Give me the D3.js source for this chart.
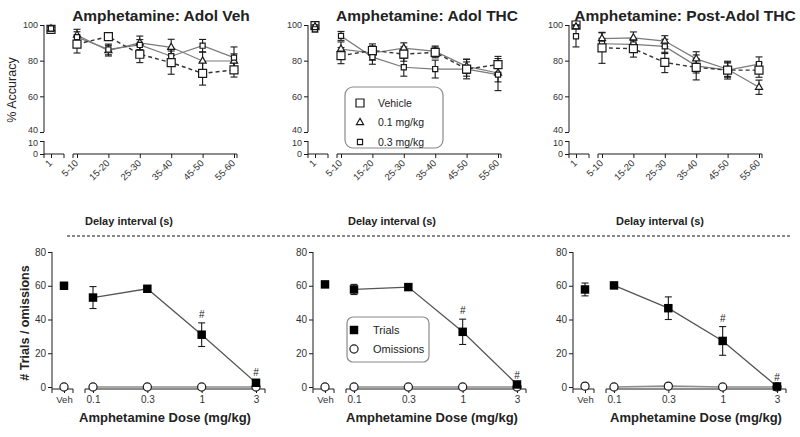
<!DOCTYPE html>
<html><head><meta charset="utf-8">
<script src="https://cdn.jsdelivr.net/npm/d3@7"></script>
<style>body{margin:0;background:#fff}svg{display:block;font-family:Arial,"Liberation Sans",sans-serif}</style>
</head><body><svg id="c" width="800" height="437"></svg>
<script>
// ---------------- DATA ----------------
const delayCats = ["5-10","15-20","25-30","35-40","45-50","55-60"];
const firstDelay = ["1"];
const doseCats = ["0.1","0.3","1","3"];
const vehCat = ["Veh"];
const topTitles = ["Amphetamine: Adol Veh","Amphetamine: Adol THC","Amphetamine: Post-Adol THC"];
const groupNames = ["Vehicle","0.1 mg/kg","0.3 mg/kg"];
const yTicksUpper = [40,60,80,100];
const yTicksLower = [0,10];
const yTicksTrials = [0,20,40,60,80];

// % accuracy at 1-s delay: [vehicle, 0.1, 0.3] per panel
const acc1Mean = [[97.6,97.8,98.0],[99.6,99.0,97.6],[100,99.0,93.7]];
const acc1Err  = [[1.0,1.0,1.0],[0.8,1.0,1.5],[0.5,1.0,6.0]];

// Adol Veh
const adolVehVehicle = [89.3,93.5,83.6,78.9,72.9,74.8];
const adolVehVehicleErr = [5.0,2.0,4.7,6.5,6.6,4.0];
const adolVehD01 = [94.4,85.6,90.0,87.5,79.8,79.8];
const adolVehD01Err = [3.2,3.0,3.8,4.5,5.0,4.0];
const adolVehD03 = [93.2,86.3,88.8,82.5,88.4,81.7];
const adolVehD03Err = [3.0,3.0,3.0,4.0,3.5,6.0];
// Adol THC
const adolThcVehicle = [82.8,85.7,83.7,84.6,75.3,77.8];
const adolThcVehicleErr = [4.5,3.7,4.0,3.0,5.5,4.6];
const adolThcD01 = [86.5,84.3,87.0,85.2,76.8,73.1];
const adolThcD01Err = [4.0,4.0,3.0,3.0,4.0,5.0];
const adolThcD03 = [93.9,82.0,76.3,75.3,75.3,72.2];
const adolThcD03Err = [2.5,4.0,5.0,5.0,4.0,9.0];
// Post-Adol THC
const postThcVehicle = [87.2,86.7,79.0,76.2,74.7,74.7];
const postThcVehicleErr = [8.7,4.7,5.7,7.0,5.0,4.0];
const postThcD01 = [92.4,92.8,91.0,81.0,75.2,65.1];
const postThcD01Err = [3.2,3.3,3.0,4.0,4.0,4.0];
const postThcD03 = [89.5,89.1,88.0,77.1,74.7,78.1];
const postThcD03Err = [3.0,3.0,4.0,4.0,4.0,4.0];

// Trials / omissions
const trialsVeh = [60.0,60.8,57.8];
const trialsVehErr = [0.5,0.5,3.8];
const trialsAdolVeh = [53.0,58.2,31.0,2.5];
const trialsAdolVehErr = [6.5,0.8,7.0,1.0];
const trialsAdolThc = [57.8,59.2,32.7,1.5];
const trialsAdolThcErr = [3.0,0.5,7.5,0.5];
const trialsPostThc = [60.2,46.7,27.3,0.3];
const trialsPostThcErr = [0.5,6.7,8.5,0.3];
const omissionsVeh = [0,0,0.5];
const omissionsAdolVeh = [0,0,0,0];
const omissionsAdolThc = [0,0,0,0];
const omissionsPostThc = [0,0.5,0,0];
const sigDoses = ["1","3"];

// ---------------- BUILD ----------------
const accPanels = [
  {m:[adolVehVehicle,adolVehD01,adolVehD03], e:[adolVehVehicleErr,adolVehD01Err,adolVehD03Err]},
  {m:[adolThcVehicle,adolThcD01,adolThcD03], e:[adolThcVehicleErr,adolThcD01Err,adolThcD03Err]},
  {m:[postThcVehicle,postThcD01,postThcD03], e:[postThcVehicleErr,postThcD01Err,postThcD03Err]}
];
const trPanels = [
  {t:trialsAdolVeh,te:trialsAdolVehErr,o:omissionsAdolVeh},
  {t:trialsAdolThc,te:trialsAdolThcErr,o:omissionsAdolThc},
  {t:trialsPostThc,te:trialsPostThcErr,o:omissionsPostThc}
];

const svg = d3.select("#c");
const ink = "#1a1a1a", txt = "#333";
const topX = [44,308,569], botX = [52,313,573];
const titleX = [161,427,685], delayX = [129,392,660], doseX = [165,432,696];
const yUp = d3.scaleLinear([40,100],[132,25]);
const yLo = d3.scaleLinear([0,10],[154,141]);
const topAxisY = 154;
const yTr = d3.scaleLinear([0,80],[387,252]);
const botAxisY = 389;

const symLarge = d3.symbol().type(d3.symbolSquare).size(64)();
const symSmall = d3.symbol().type(d3.symbolSquare).size(26)();
const symTri = d3.symbol().type(d3.symbolTriangle).size(22)();
const symFill = d3.symbol().type(d3.symbolSquare).size(72)();
const symCirc = d3.symbol().type(d3.symbolCircle).size(52)();
const groupSym = [symLarge, symTri, symSmall];

function styleAxis(g, fs){
  g.select(".domain").remove();
  g.selectAll(".tick line").attr("stroke",ink);
  g.selectAll(".tick text").attr("fill",txt).style("font-size",fs+"px").style("font-family","Arial, 'Liberation Sans', sans-serif");
}
function hseg(g,x1,x2,y){
  g.append("line").attr("x1",x1).attr("x2",x2).attr("y1",y).attr("y2",y).attr("stroke",ink);
  [x1,x2].forEach(x=>g.append("line").attr("x1",x).attr("x2",x).attr("y1",y).attr("y2",y+4).attr("stroke",ink));
}
function vline(g,x,y1,y2){
  g.append("line").attr("x1",x).attr("x2",x).attr("y1",y1).attr("y2",y2).attr("stroke",ink);
}
function errbar(g,x,y1,y2){
  g.append("line").attr("x1",x).attr("x2",x).attr("y1",y1).attr("y2",y2).attr("stroke",ink).attr("stroke-width",1.1);
  [y1,y2].forEach(y=>g.append("line").attr("x1",x-3.5).attr("x2",x+3.5).attr("y1",y).attr("y2",y).attr("stroke",ink).attr("stroke-width",1.1));
}

// ---- top panels ----
for(let i=0;i<3;i++){
  const x0 = topX[i];
  const g = svg.append("g");
  const xs = d3.scalePoint(delayCats,[x0+33,x0+190]);
  const x1s = d3.scalePoint(firstDelay,[x0+7,x0+7]);
  // y axes
  vline(g,x0,yUp(100),yUp(40));
  vline(g,x0,yLo(10),yLo(0));
  g.append("g").attr("transform",`translate(${x0},0)`)
    .call(d3.axisLeft(yUp).tickValues(yTicksUpper).tickSize(4).tickPadding(2)).call(a=>styleAxis(a,9))
    .call(a=>a.selectAll(".tick text").filter(d=>d===40).attr("dy","0.1em"));
  g.append("g").attr("transform",`translate(${x0},0)`)
    .call(d3.axisLeft(yLo).tickValues(yTicksLower).tickSize(4).tickPadding(2)).call(a=>styleAxis(a,9))
    .call(a=>a.selectAll(".tick text").filter(d=>d===10).attr("dy","0.55em"));
  // x axes
  hseg(g,x0,x0+20,topAxisY);
  hseg(g,x0+29,x0+193,topAxisY);
  const rot = a=>{ styleAxis(a,9.5); a.selectAll(".tick text").attr("x",-6).attr("y",6).attr("dy","0.2em")
      .attr("transform","rotate(-45)").style("text-anchor","end"); };
  g.append("g").attr("transform",`translate(0,${topAxisY})`).call(d3.axisBottom(x1s).tickSize(4)).call(rot);
  g.append("g").attr("transform",`translate(0,${topAxisY})`).call(d3.axisBottom(xs).tickSize(4)).call(rot);

  // titles
  svg.append("text").attr("x",titleX[i]).attr("y",21).attr("text-anchor","middle")
    .style("font-weight","bold").style("font-size","15.5px").attr("fill","#222").text(topTitles[i]);
  svg.append("text").attr("x",delayX[i]).attr("y",225).attr("text-anchor","middle")
    .style("font-weight","bold").style("font-size","11px").attr("fill","#222").text("Delay interval (s)");

  const P = accPanels[i];
  const line = d3.line().x((d,j)=>xs(delayCats[j])).y(d=>yUp(d));
  [1,2].forEach(k=>g.append("path").attr("d",line(P.m[k])).attr("fill","none").attr("stroke","#7a7a7a").attr("stroke-width",1.2));
  g.append("path").attr("d",line(P.m[0])).attr("fill","none").attr("stroke","#333").attr("stroke-width",1.4).attr("stroke-dasharray","4,3");
  [0,1,2].forEach(k=>{
    P.m[k].forEach((v,j)=>errbar(g,xs(delayCats[j]),yUp(v+P.e[k][j]),yUp(v-P.e[k][j])));
    errbar(g,x1s("1"),yUp(Math.min(100,acc1Mean[i][k]+acc1Err[i][k])),yUp(acc1Mean[i][k]-acc1Err[i][k]));
  });
  [1,2,0].forEach(k=>{
    P.m[k].forEach((v,j)=>g.append("path").attr("d",groupSym[k]).attr("transform",`translate(${xs(delayCats[j])},${yUp(v)})`)
      .attr("fill","#fff").attr("stroke",ink).attr("stroke-width",1.2));
  });
  [1,2,0].forEach(k=>{
    g.append("path").attr("d",groupSym[k]).attr("transform",`translate(${x1s("1")},${yUp(acc1Mean[i][k])})`)
      .attr("fill", k===0 ? "none":"#fff").attr("stroke",ink).attr("stroke-width",1.2);
  });
}
svg.append("text").attr("transform","translate(16,90) rotate(-90)").attr("text-anchor","middle")
  .style("font-size","12.5px").attr("fill","#222").text("% Accuracy");

// legend top (panel 2)
{
  const g = svg.append("g");
  g.append("rect").attr("x",345).attr("y",87).attr("width",98).attr("height",61).attr("rx",8)
    .attr("fill","#fff").attr("stroke","#8a8a8a").attr("stroke-width",1.2);
  groupNames.forEach((n,k)=>{
    const y = 103 + k*19.5;
    g.append("path").attr("d",groupSym[k]).attr("transform",`translate(360,${y})`).attr("fill","#fff").attr("stroke",ink).attr("stroke-width",1.2);
    g.append("text").attr("x",378).attr("y",y+3.8).style("font-size","10.5px").attr("fill","#222").text(n);
  });
}

svg.append("line").attr("x1",67).attr("x2",790).attr("y1",236).attr("y2",236).attr("stroke","#111").attr("stroke-dasharray","3,2");

// ---- bottom panels ----
for(let i=0;i<3;i++){
  const x0 = botX[i];
  const g = svg.append("g");
  const xs = d3.scalePoint(doseCats,[x0+41,x0+204]);
  const xv = d3.scalePoint(vehCat,[x0+12,x0+12]);
  vline(g,x0,yTr(80),botAxisY);
  g.append("g").attr("transform",`translate(${x0},0)`)
    .call(d3.axisLeft(yTr).tickValues(yTicksTrials).tickSize(4).tickPadding(2)).call(a=>styleAxis(a,10));
  hseg(g,x0,x0+21,botAxisY);
  hseg(g,x0+33,x0+213,botAxisY);
  g.append("g").attr("transform",`translate(0,${botAxisY})`).call(d3.axisBottom(xv).tickSize(4)).call(a=>styleAxis(a,9.5));
  g.append("g").attr("transform",`translate(0,${botAxisY})`).call(d3.axisBottom(xs).tickSize(4)).call(a=>styleAxis(a,10));
  svg.append("text").attr("x",doseX[i]).attr("y",422).attr("text-anchor","middle")
    .style("font-weight","bold").style("font-size","13px").attr("fill","#222").text("Amphetamine Dose (mg/kg)");

  const P = trPanels[i];
  const line = d3.line().x((d,j)=>xs(doseCats[j])).y(d=>yTr(d));
  g.append("path").attr("d",line(P.o)).attr("fill","none").attr("stroke","#8c8c8c").attr("stroke-width",1.6);
  g.append("path").attr("d",line(P.t)).attr("fill","none").attr("stroke","#555").attr("stroke-width",1.3);
  P.t.forEach((v,j)=>errbar(g,xs(doseCats[j]),yTr(v+P.te[j]),yTr(Math.max(0,v-P.te[j]))));
  errbar(g,xv("Veh"),yTr(trialsVeh[i]+trialsVehErr[i]),yTr(trialsVeh[i]-trialsVehErr[i]));
  P.o.forEach((v,j)=>g.append("path").attr("d",symCirc).attr("transform",`translate(${xs(doseCats[j])},${yTr(v)})`)
    .attr("fill","#fff").attr("stroke",ink).attr("stroke-width",1.2));
  g.append("path").attr("d",symCirc).attr("transform",`translate(${xv("Veh")},${yTr(omissionsVeh[i])})`)
    .attr("fill","#fff").attr("stroke",ink).attr("stroke-width",1.2);
  P.t.forEach((v,j)=>g.append("path").attr("d",symFill).attr("transform",`translate(${xs(doseCats[j])},${yTr(v)})`).attr("fill","#000"));
  g.append("path").attr("d",symFill).attr("transform",`translate(${xv("Veh")},${yTr(trialsVeh[i])})`).attr("fill","#000");
  sigDoses.forEach(d=>{
    const j = doseCats.indexOf(d);
    g.append("text").attr("x",xs(d)).attr("y",yTr(P.t[j]+P.te[j])-5).attr("text-anchor","middle")
      .style("font-size","10px").attr("fill","#222").text("#");
  });
}
svg.append("text").attr("transform","translate(29,323) rotate(-90)").attr("text-anchor","middle")
  .style("font-weight","bold").style("font-size","12.5px").attr("fill","#222").text("# Trials / omissions");

// legend bottom (panel 2)
{
  const g = svg.append("g");
  g.append("rect").attr("x",347).attr("y",317).attr("width",82).attr("height",45).attr("rx",6)
    .attr("fill","#fff").attr("stroke","#8a8a8a").attr("stroke-width",1.2);
  g.append("path").attr("d",symFill).attr("transform","translate(354,330)").attr("fill","#000");
  g.append("text").attr("x",373).attr("y",334).style("font-size","11px").attr("fill","#222").text("Trials");
  g.append("path").attr("d",symCirc).attr("transform","translate(354,349)").attr("fill","#fff").attr("stroke",ink).attr("stroke-width",1.2);
  g.append("text").attr("x",373).attr("y",353).style("font-size","11px").attr("fill","#222").text("Omissions");
}
</script></body></html>
